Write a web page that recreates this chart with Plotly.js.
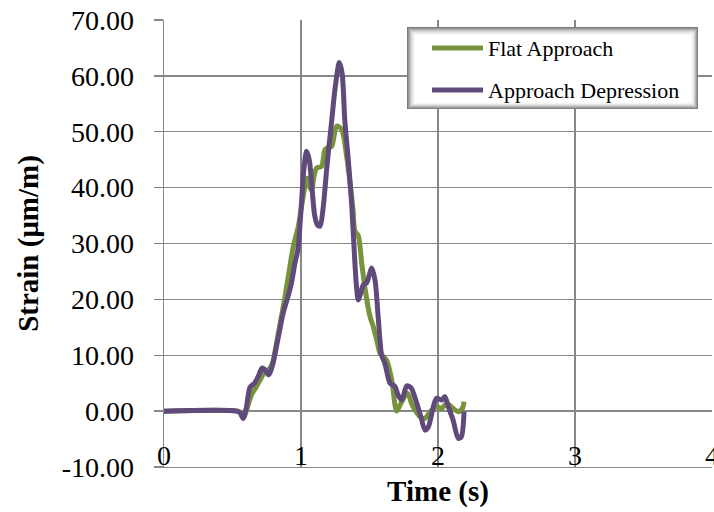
<!DOCTYPE html>
<html>
<head>
<meta charset="utf-8">
<script src="https://cdn.plot.ly/plotly-3.0.1.min.js"></script>
<style>html,body{margin:0;padding:0;background:#fff;}#chart{width:714px;height:512px;}</style>
</head>
<body>
<div id="chart"></div>
<script>
// Flat Approach series
const flatTime = [0, 0.54, 0.56, 0.585, 0.61, 0.64, 0.67, 0.70, 0.73, 0.76, 0.79, 0.82, 0.85, 0.88, 0.91, 0.944, 0.98, 1.01, 1.04, 1.053, 1.066, 1.078, 1.095, 1.114, 1.15, 1.175, 1.20, 1.224, 1.26, 1.297, 1.333, 1.358, 1.38, 1.394, 1.418, 1.443, 1.47, 1.504, 1.528, 1.555, 1.577, 1.60, 1.625, 1.662, 1.698, 1.725, 1.747, 1.77, 1.784, 1.805, 1.832, 1.869, 1.905, 1.942, 1.99, 2.027, 2.063, 2.11, 2.148, 2.178, 2.19];
const flatStrain = [0, 0, -0.3, -1.0, 0.8, 3.0, 4.2, 5.5, 6.8, 7.3, 8.5, 12.0, 16.0, 20.0, 24.5, 29.5, 33.0, 37.5, 41.4, 41.7, 40.0, 39.6, 42.0, 43.5, 43.8, 46.8, 47.2, 47.4, 51.0, 50.4, 45.6, 40.8, 36.0, 32.2, 31.4, 26.5, 21.5, 16.9, 15.1, 12.5, 10.3, 9.8, 9.1, 5.6, 0.0, 1.2, 2.2, 3.2, 3.0, 1.5, 0.2, -1.0, -1.3, -0.1, 0.8, 0.5, 1.4, 0.5, -0.1, 0.5, 1.7];

// Approach Depression series
const depTime = [0, 0.53, 0.555, 0.577, 0.60, 0.628, 0.66, 0.69, 0.715, 0.737, 0.766, 0.796, 0.83, 0.87, 0.905, 0.93, 0.956, 0.978, 1.00, 1.02, 1.04, 1.06, 1.08, 1.10, 1.12, 1.139, 1.16, 1.19, 1.22, 1.25, 1.28, 1.30, 1.32, 1.345, 1.37, 1.39, 1.406, 1.418, 1.435, 1.455, 1.48, 1.50, 1.516, 1.54, 1.565, 1.589, 1.613, 1.65, 1.686, 1.71, 1.735, 1.771, 1.79, 1.808, 1.844, 1.875, 1.905, 1.93, 1.966, 1.99, 2.027, 2.05, 2.075, 2.11, 2.148, 2.17, 2.19];
const depStrain = [0, 0, -0.3, -1.3, 0.5, 4.3, 5.0, 6.3, 7.7, 7.4, 6.5, 8.6, 12.7, 17.6, 20.5, 22.9, 26.5, 29.0, 36.0, 43.0, 46.5, 45.0, 40.0, 35.0, 33.3, 33.1, 36.0, 44.0, 51.0, 58.0, 62.4, 60.5, 52.0, 45.0, 37.0, 28.0, 22.0, 19.9, 21.0, 22.6, 23.0, 24.5, 25.6, 23.5, 16.3, 10.0, 8.5, 5.0, 4.4, 2.8, 2.0, 4.5, 4.4, 4.0, 1.5, -1.0, -3.4, -2.8, 0.8, 2.3, 2.0, 2.6, 0.8, -1.6, -4.9, -4.6, -0.1];

const seriesNames = ["Flat Approach", "Approach Depression"];
const seriesColors = ["#77933C", "#604A7B"];
const xTicks = [0, 1, 2, 3, 4];
const yTicks = [-10, 0, 10, 20, 30, 40, 50, 60, 70];

const W = 714, H = 512;
const M = {l: 164, r: 2, t: 20, b: 45};
const PW = W - M.l - M.r, PH = H - M.t - M.b;
const px2x = p => (p - M.l) / PW;
const py2y = p => (H - M.b - p) / PH;

const serif = '"Liberation Serif", "Times New Roman", serif';
const grid = '#878787';

// legend box with soft inner shadow (approximation of Excel style)
const box = {x0: 407, y0: 27, x1: 698, y1: 109};
const shapes = [];
const shades = ['#7a7a7a', '#959595', '#adadad', '#c3c3c3', '#d6d6d6', '#e5e5e5', '#f0f0f0', '#f8f8f8', '#ffffff'];
shades.forEach((c, i) => {
  shapes.push({type: 'rect', xref: 'paper', yref: 'paper', layer: 'above',
    x0: px2x(box.x0 + i), x1: px2x(box.x1 - i * 0.8), y0: py2y(box.y1 - i * 0.8), y1: py2y(box.y0 + i),
    fillcolor: c, line: {width: 0}});
});
const legendRows = [48, 90];
const annotations = [];
seriesNames.forEach((n, i) => {
  shapes.push({type: 'line', xref: 'paper', yref: 'paper', layer: 'above',
    x0: px2x(432), x1: px2x(483), y0: py2y(legendRows[i]), y1: py2y(legendRows[i]),
    line: {color: seriesColors[i], width: 5}});
  annotations.push({xref: 'paper', yref: 'paper', x: px2x(486), y: py2y(legendRows[i] + 1),
    xanchor: 'left', yanchor: 'middle', showarrow: false, text: n,
    font: {family: serif, size: 22, color: '#000'}});
});

const traces = seriesNames.map((n, i) => ({
  x: i === 0 ? flatTime : depTime, y: i === 0 ? flatStrain : depStrain,
  name: n, type: 'scatter', mode: 'lines',
  line: {color: seriesColors[i], width: 5, shape: 'spline', smoothing: 0.8}
}));

const layout = {
  width: W, height: H,
  margin: M,
  paper_bgcolor: '#fff', plot_bgcolor: '#fff',
  font: {family: serif, color: '#000', size: 27},
  showlegend: false,
  shapes: shapes,
  annotations: annotations,
  xaxis: {range: [0, 4], tickvals: xTicks, ticktext: xTicks.map(String),
    showgrid: true, gridcolor: grid, gridwidth: 1.3, zeroline: false,
    showline: true, linecolor: grid, linewidth: 1.3, ticks: '',
    ticklabelstandoff: -37, ticklabeloverflow: 'allow', tickfont: {family: serif, size: 28},
    title: {text: '<b>Time (s)</b>', font: {family: serif, size: 29}, standoff: 10}},
  yaxis: {range: [-10, 70], tickvals: yTicks, ticktext: yTicks.map(v => v.toFixed(2)),
    showgrid: true, gridcolor: grid, gridwidth: 1.3, zeroline: false,
    showline: true, linecolor: grid, linewidth: 1.3, ticks: 'outside', ticklen: 9,
    tickcolor: grid, tickwidth: 1.3, ticklabelstandoff: 14, tickfont: {family: serif, size: 28},
    title: {text: '<b>Strain (μm/m)</b>', font: {family: serif, size: 29}, standoff: 14}}
};

Plotly.newPlot('chart', traces, layout, {displayModeBar: false, staticPlot: true});
</script>
</body>
</html>
